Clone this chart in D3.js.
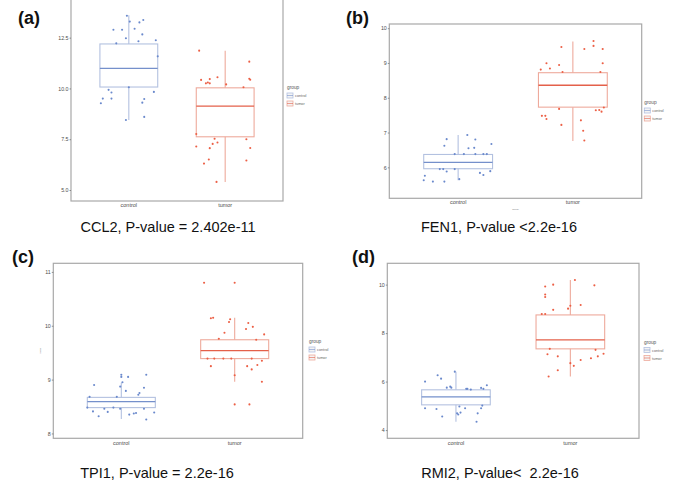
<!DOCTYPE html>
<html><head><meta charset="utf-8">
<script src="https://cdn.jsdelivr.net/npm/d3@7"></script>
<style>body{margin:0;background:#fff}svg{display:block;font-family:"Liberation Sans",Arial,sans-serif}text{white-space:pre}</style>
</head><body><svg id="c" width="685" height="490"></svg>
<script>
const categories = ["control", "tumor"];
const panelLabels = ["(a)", "(b)", "(c)", "(d)"];
const titles = ["CCL2, P-value = 2.402e-11", "FEN1, P-value <2.2e-16", "TPI1, P-value = 2.2e-16", "RMI2, P-value<  2.2e-16"];
const yTicksA = [5.0, 7.5, 10.0, 12.5];
const yTicksB = [6, 7, 8, 9, 10];
const yTicksC = [8, 9, 10, 11];
const yTicksD = [4, 6, 8, 10];
const tickFormats = [".1f", "d", "d", "d"];
// box stats: [lower whisker, Q1, median, Q3, upper whisker] for control, tumor
const boxA = [[8.45, 10.07, 10.99, 12.19, 13.6], [5.39, 7.62, 9.13, 10.03, 11.85]];
const boxB = [[5.63, 5.96, 6.14, 6.37, 6.93], [6.76, 7.73, 8.36, 8.72, 9.62]];
const boxC = [[8.27, 8.48, 8.59, 8.67, 8.94], [8.96, 9.39, 9.54, 9.74, 10.15]];
const boxD = [[4.34, 5.04, 5.37, 5.66, 6.41], [6.21, 7.35, 7.72, 8.75, 10.19]];
// jittered points: [jitter (category units), value]
const ptsAControl = [[-0.02,13.58],[0.01,13.29],[0.11,13.25],[0.15,13.37],[-0.07,12.89],[-0.16,12.89],[0.06,12.94],[0.14,12.66],[-0.03,12.47],[0.10,12.32],[0.28,12.37],[-0.13,12.22],[0.30,11.58],[0,10.06],[-0.21,9.93],[-0.18,9.80],[0.26,9.83],[-0.27,9.50],[-0.18,9.50],[0.16,9.48],[-0.29,9.27],[0.14,9.30],[0.16,8.60],[-0.03,8.45]];
const ptsATumor = [[-0.27,11.86],[0.25,11.32],[-0.25,10.42],[-0.18,10.29],[-0.20,10.25],[-0.16,10.25],[-0.16,10.46],[-0.08,10.55],[0.01,10.20],[0.19,10.06],[0.25,10.48],[0.26,10.43],[-0.30,7.76],[-0.11,7.52],[0.22,7.50],[-0.08,7.34],[-0.13,7.27],[-0.16,7.06],[-0.30,7.14],[0.26,7.07],[-0.17,6.50],[-0.22,6.30],[0.22,6.45],[-0.09,5.40]];
const ptsBControl = [[-0.10,6.81],[0.08,6.93],[0.15,6.80],[-0.12,6.62],[0.09,6.55],[0.14,6.56],[0.29,6.67],[-0.03,6.38],[0.05,6.38],[0.15,6.38],[0.22,6.38],[0.25,6.38],[-0.16,5.95],[-0.13,5.95],[-0.03,5.95],[-0.10,5.88],[0.19,5.84],[0.28,5.89],[0.22,5.78],[-0.29,5.76],[-0.30,5.63],[-0.22,5.59],[-0.12,5.59],[0.01,5.66]];
const ptsBTumor = [[0.18,9.63],[-0.10,9.46],[0.18,9.49],[0.10,9.40],[0.26,9.40],[-0.23,8.99],[-0.12,8.94],[0.26,8.99],[-0.28,8.81],[-0.20,8.84],[-0.09,8.74],[0.24,8.74],[-0.12,7.68],[0.27,7.72],[0.20,7.64],[0.23,7.65],[0.25,7.60],[-0.27,7.48],[-0.24,7.48],[-0.23,7.39],[0.07,7.35],[-0.10,7.22],[0.09,7.05],[0.10,6.77]];
const ptsCControl = [[0,9.09],[0,9.05],[0.06,9.05],[0.22,9.09],[0.01,8.95],[-0.24,8.90],[-0.01,8.87],[0.20,8.85],[0.04,8.79],[0.16,8.75],[0.15,8.72],[-0.04,8.68],[-0.28,8.68],[-0.30,8.48],[-0.15,8.46],[-0.07,8.48],[-0.01,8.46],[0.20,8.46],[-0.25,8.41],[-0.12,8.40],[0.29,8.39],[0.13,8.38],[0.11,8.37],[0.07,8.35],[-0.20,8.32],[0.22,8.26]];
const ptsCTumor = [[-0.27,10.80],[0,10.80],[-0.21,10.14],[-0.19,10.15],[-0.04,10.12],[-0.05,10.07],[0.12,10.05],[0.16,9.98],[0.10,9.94],[-0.09,9.87],[0.26,9.84],[-0.14,9.76],[0.19,9.74],[-0.24,9.39],[-0.18,9.39],[-0.10,9.39],[-0.03,9.39],[0.15,9.39],[0.24,9.35],[0.20,9.27],[-0.21,9.25],[0.11,9.25],[0.15,9.19],[0,9.08],[0.24,8.96],[0,8.54],[0.13,8.54]];
const ptsDControl = [[-0.01,6.41],[-0.16,6.26],[-0.13,6.12],[-0.27,6.00],[-0.05,5.79],[-0.04,5.75],[-0.08,5.75],[0.27,5.85],[0.24,5.70],[0.10,5.70],[0.09,5.70],[0.13,5.67],[0.22,5.74],[-0.27,4.90],[-0.17,4.87],[0.03,4.97],[0.08,4.90],[0.22,4.90],[0.23,5.01],[-0.12,4.56],[0.04,4.72],[0.01,4.69],[0.02,4.64],[0.19,4.69],[0.18,4.34]];
const ptsDTumor = [[0.04,10.19],[-0.15,10.00],[-0.22,9.92],[0.21,9.97],[-0.22,9.59],[-0.22,9.49],[0.09,9.16],[0,9.13],[-0.02,9.01],[-0.15,8.96],[-0.25,8.79],[-0.22,8.79],[-0.18,7.35],[0.22,7.31],[-0.20,7.13],[0.29,7.15],[-0.11,7.04],[0.24,7.04],[0.18,6.96],[0.09,6.89],[0,6.76],[0.03,6.65],[-0.11,6.47],[-0.19,6.21]];

const layouts = [
  {x0:71, x1:283, y0:-5, y1:201, dom:[4.459,14.60], lab:[18,24], title:[168,232], leg:[287,89], xl:207},
  {x0:389.3, x1:641.7, y0:24, y1:198.3, dom:[5.11,10.12], lab:[346,24], title:[499,232], leg:[644.3,104], xl:204, xtitle:true},
  {x0:53.3, x1:302.7, y0:263.3, y1:438.3, dom:[7.91,11.16], lab:[12,263], title:[157,477.5], leg:[309,343], xl:445, ytitle:true},
  {x0:387.3, x1:639, y0:263.3, y1:438.3, dom:[3.66,10.88], lab:[352,263], title:[500,477.5], leg:[644,343.5], xl:445}
];
const ticks = [yTicksA, yTicksB, yTicksC, yTicksD];
const boxes = [boxA, boxB, boxC, boxD];
const pts = [[ptsAControl, ptsATumor],[ptsBControl, ptsBTumor],[ptsCControl, ptsCTumor],[ptsDControl, ptsDTumor]];
const boxStroke = ["#b3c1e0", "#eeaa9c"];
const medStroke = ["#7590cb", "#e4604a"];
const ptFill = ["#6a89cc", "#ec5f45"];

const svg = d3.select("#c");
layouts.forEach((L, i) => {
  const g = svg.append("g");
  const x = d3.scaleLinear().domain([0.4, 2.6]).range([L.x0, L.x1]);
  const y = d3.scaleLinear().domain(L.dom).range([L.y1, L.y0]);
  const cx = c => x(categories.indexOf(c) + 1);
  // frame
  g.append("rect").attr("x", L.x0).attr("y", L.y0).attr("width", L.x1 - L.x0).attr("height", L.y1 - L.y0)
    .attr("fill", "none").attr("stroke", "#a8a8a8").attr("stroke-width", 1.2);
  // y axis
  const ya = d3.axisLeft(y).tickValues(ticks[i]).tickSize(1.5).tickPadding(1).tickFormat(d3.format(tickFormats[i]));
  const yg = g.append("g").attr("transform", `translate(${L.x0},0)`).call(ya);
  yg.select(".domain").remove();
  yg.selectAll("line").attr("stroke", "#555").attr("stroke-width", 0.6);
  yg.selectAll("text").attr("font-size", 5.3).attr("fill", "#4d4d4d").attr("font-family", "Liberation Sans, Arial");
  // x labels
  categories.forEach(c => {
    g.append("text").attr("x", cx(c)).attr("y", L.xl).attr("text-anchor", "middle")
      .attr("font-size", 5.5).attr("fill", "#4d4d4d").text(c);
  });
  if (L.xtitle) g.append("text").attr("x", (L.x0 + L.x1) / 2).attr("y", 210).attr("text-anchor", "middle")
      .attr("font-size", 2.5).attr("fill", "#777").text("group");
  if (L.ytitle) g.append("text").attr("transform", `translate(41,${(L.y0 + L.y1) / 2}) rotate(-90)`).attr("text-anchor", "middle")
      .attr("font-size", 2.5).attr("fill", "#777").text("value");
  const bw = 0.3;
  categories.forEach((c, k) => {
    const b = boxes[i][k];
    const xc = cx(c);
    // whiskers
    g.append("line").attr("x1", xc).attr("x2", xc).attr("y1", y(b[3])).attr("y2", y(b[4]))
      .attr("stroke", boxStroke[k]).attr("stroke-width", 1.1);
    g.append("line").attr("x1", xc).attr("x2", xc).attr("y1", y(b[1])).attr("y2", y(b[0]))
      .attr("stroke", boxStroke[k]).attr("stroke-width", 1.1);
    g.append("rect").attr("x", x(k + 1 - bw)).attr("width", x(k + 1 + bw) - x(k + 1 - bw))
      .attr("y", y(b[3])).attr("height", y(b[1]) - y(b[3]))
      .attr("fill", "none").attr("stroke", boxStroke[k]).attr("stroke-width", 1.1);
    g.append("line").attr("x1", x(k + 1 - bw)).attr("x2", x(k + 1 + bw)).attr("y1", y(b[2])).attr("y2", y(b[2]))
      .attr("stroke", medStroke[k]).attr("stroke-width", 1.3);
    // points
    g.selectAll(null).data(pts[i][k]).enter().append("circle")
      .attr("cx", d => x(k + 1 + d[0])).attr("cy", d => y(d[1])).attr("r", 1.05)
      .attr("fill", ptFill[k]);
  });
  // legend
  const [lx, ly] = L.leg;
  g.append("text").attr("x", lx).attr("y", ly).attr("font-size", 4.8).attr("fill", "#555").text("group");
  categories.forEach((c, k) => {
    const ky = ly + 4 + k * 8;
    g.append("rect").attr("x", lx).attr("y", ky).attr("width", 6).attr("height", 5)
      .attr("fill", "#f4f4f4").attr("stroke", boxStroke[k]).attr("stroke-width", 0.8);
    g.append("line").attr("x1", lx).attr("x2", lx + 6).attr("y1", ky + 2.5).attr("y2", ky + 2.5)
      .attr("stroke", medStroke[k]).attr("stroke-width", 0.6);
    g.append("text").attr("x", lx + 8).attr("y", ky + 4).attr("font-size", 3.8).attr("fill", "#666").text(c);
  });
  // panel label
  g.append("text").attr("x", L.lab[0]).attr("y", L.lab[1]).attr("font-size", 18).attr("font-weight", "bold")
    .attr("fill", "#111").text(panelLabels[i]);
  // title
  g.append("text").attr("x", L.title[0]).attr("y", L.title[1]).attr("text-anchor", "middle")
    .attr("font-size", 14.5).attr("fill", "#111").text(titles[i]);
});
</script></body></html>
